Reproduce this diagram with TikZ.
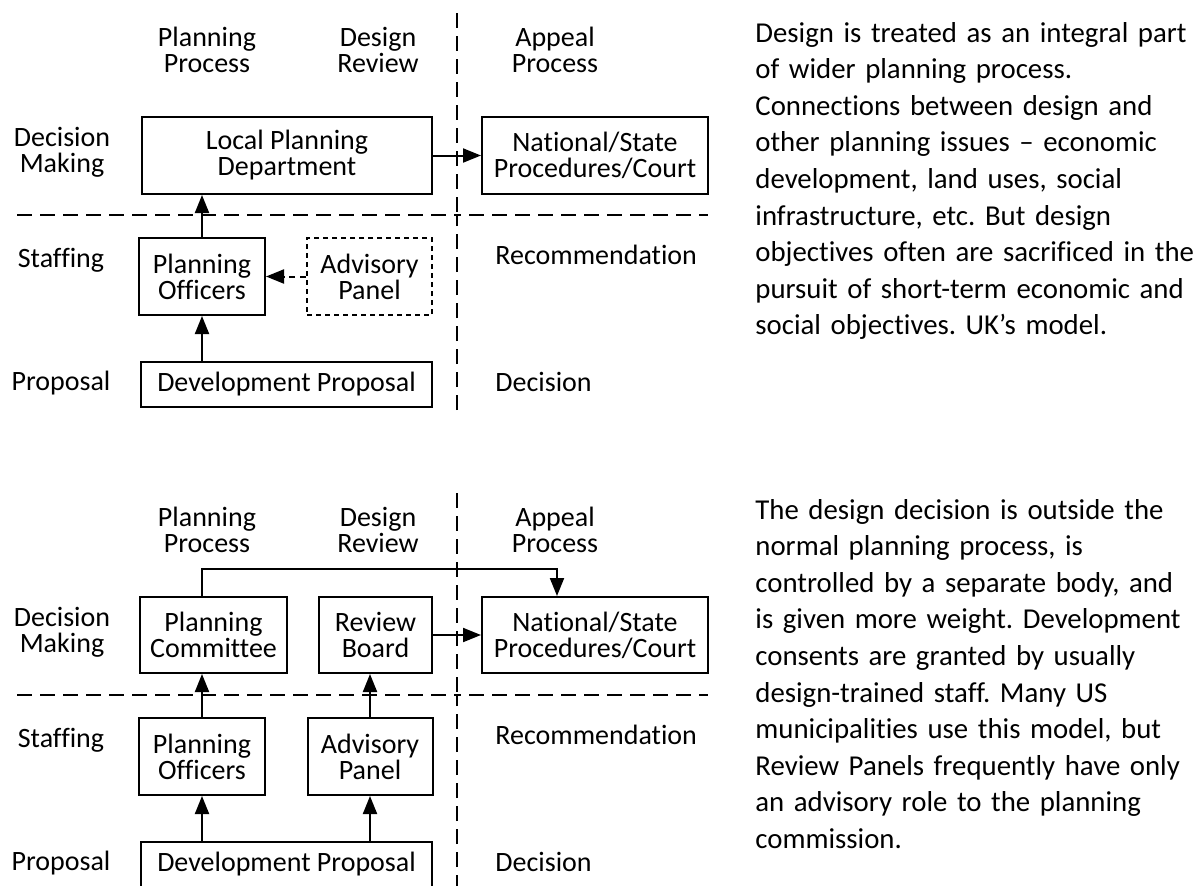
\documentclass[tikz,border=0pt]{standalone}
\usepackage{fontspec}
\setmainfont{Carlito}[Ligatures={TeX,NoCommon}]
\usetikzlibrary{arrows.meta}
\newcommand\diagfont{\fontsize{14}{13}\selectfont}
\newcommand\parafont{\fontsize{14.4}{18.3}\selectfont\frenchspacing}
\begin{document}
\begin{tikzpicture}[x=0.5pt,y=-0.5pt,
  box/.style={draw,line width=1pt,align=center,inner sep=0pt,font=\diagfont},
  dbox/.style={box,line width=0.8pt,dash pattern=on 2.5pt off 2pt},
  lbl/.style={align=center,inner sep=0pt,font=\diagfont},
  sep/.style={line width=1pt,dash pattern=on 7.5pt off 4pt},
  arr/.style={line width=1pt,-{Triangle[length=9pt,width=7pt]}},
  para/.style={anchor=base west,inner sep=0pt,text width=240pt,align=left,font=\parafont}]
\useasboundingbox (0,0) rectangle (1200,885);
\fill[white] (0,0) rectangle (1200,885);
\clip (0,0) rectangle (1200,885);

% ===== Top diagram =====
\node[lbl] (h1a) at (207,50) {Planning\\Process};
\node[lbl] (h1b) at (378,50) {Design\\Review};
\node[lbl] (h1c) at (555,50) {Appeal\\Process};
\node[lbl] (r1a) at (62,152) {Decision\\Making};
\node[lbl] (r1b) at (61,260) {Staffing};
\node[lbl] (r1c) at (61,383) {Proposal};
\node[lbl,anchor=west] (rec1) at (495,255) {Recommendation};
\node[lbl,anchor=west] (dec1) at (495,382) {Decision};

\node[box,minimum width=145pt,minimum height=38.5pt] (lpd) at (287,155.5) {Local Planning\\Department};
\node[box,minimum width=113pt,minimum height=38.5pt] (ns1) at (595,155.5) {National/State\\Procedures/Court};
\node[box,minimum width=63pt,minimum height=38.5pt] (po1) at (202,276.5) {Planning\\Officers};
\node[dbox,minimum width=62.5pt,minimum height=38.5pt] (ap1) at (369.5,276.5) {Advisory\\Panel};
\node[box,minimum width=145.5pt,minimum height=22.5pt] (dp1) at (286.5,384.5) {Development Proposal};

\coordinate (v1t) at (457,13);
\coordinate (v1m) at (457,215);
\coordinate (v1b) at (457,410);
\coordinate (h1l) at (17,215);
\coordinate (h1r) at (708,215);
\draw[sep] (v1t) -- (v1m);
\draw[sep] (h1l) -- (v1m);
\draw[sep] (v1b) -- (v1m) -- (h1r);

\draw[arr] (lpd.east) -- (ns1.west);
\draw[arr] (po1.north) -- (po1.north |- lpd.south);
\draw[arr] (dp1.north -| po1) -- (po1.south);
\draw[arr,dash pattern=on 3pt off 2.5pt] (ap1.west) -- (po1.east);

\node[para] (t1) at (755,42) {Design is treated as an integral part\\
of wider planning process.\\
Connections between design and\\
other planning issues -- economic\\
development, land uses, social\\
infrastructure, etc. But design\\
objectives often are sacrificed in the\\
pursuit of short-term economic and\\
social objectives. UK's model.};

% ===== Bottom diagram =====
\node[lbl] (h2a) at (207,530) {Planning\\Process};
\node[lbl] (h2b) at (378,530) {Design\\Review};
\node[lbl] (h2c) at (555,530) {Appeal\\Process};
\node[lbl] (r2a) at (62,632) {Decision\\Making};
\node[lbl] (r2b) at (61,740) {Staffing};
\node[lbl] (r2c) at (61,863) {Proposal};
\node[lbl,anchor=west] (rec2) at (495,735) {Recommendation};
\node[lbl,anchor=west] (dec2) at (495,862) {Decision};

\node[box,minimum width=73.5pt,minimum height=38pt] (pc) at (213.5,635) {Planning\\Committee};
\node[box,minimum width=56.5pt,minimum height=38pt] (rb) at (375.5,635) {Review\\Board};
\node[box,minimum width=113pt,minimum height=38pt] (ns2) at (595,635) {National/State\\Procedures/Court};
\node[box,minimum width=63pt,minimum height=38.5pt] (po2) at (202,756.5) {Planning\\Officers};
\node[box,minimum width=62.5pt,minimum height=38.5pt] (ap2) at (370,756.5) {Advisory\\Panel};
\node[box,minimum width=145.5pt,minimum height=22.5pt] (dp2) at (286.5,864.5) {Development Proposal};

\coordinate (v2t) at (457,493);
\coordinate (v2m) at (457,695);
\coordinate (v2b) at (457,890);
\coordinate (h2l) at (17,695);
\coordinate (h2r) at (708,695);
\draw[sep] (v2t) -- (v2m);
\draw[sep] (h2l) -- (v2m);
\draw[sep] (v2b) -- (v2m) -- (h2r);

\coordinate (brk) at (557,569);
\draw[arr] (pc.north -| po2) -- (po2 |- brk) -| (brk |- ns2.north);
\draw[arr] (rb.east) -- (ns2.west);
\draw[arr] (po2.north) -- (po2.north |- pc.south);
\draw[arr] (ap2.north) -- (ap2.north |- rb.south);
\draw[arr] (dp2.north -| po2) -- (po2.south);
\draw[arr] (dp2.north -| ap2) -- (ap2.south);

\node[para] (t2) at (755,519) {The design decision is outside the\\
normal planning process, is\\
controlled by a separate body, and\\
is given more weight. Development\\
consents are granted by usually\\
design-trained staff. Many US\\
municipalities use this model, but\\
Review Panels frequently have only\\
an advisory role to the planning\\
commission.};
\end{tikzpicture}
\end{document}
